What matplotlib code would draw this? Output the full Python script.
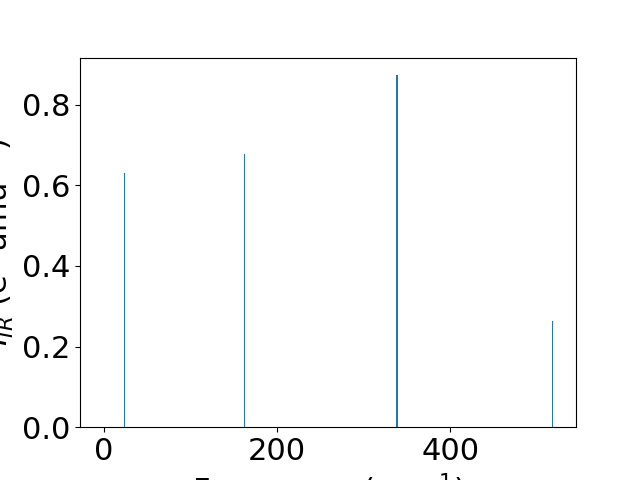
import matplotlib
matplotlib.use('Agg')
import matplotlib.pyplot as plt

# Frequências (cm^-1) e intensidades IR
freq = [23.4, 162.0, 338.0, 339.0, 517.8]
intensidade = [0.630, 0.677, 0.873, 0.873, 0.263]

plt.rcParams['font.size'] = 22

plt.figure(figsize=(6.4, 4.8), dpi=100)
plt.bar(freq, intensidade, width=1.0)
plt.xlim(-27.7, 545.2)
plt.xlabel('Frequency (cm$^{-1}$)')
plt.ylabel('$I_{IR}$ (e$^2$ amu$^{-1}$)')
plt.savefig('out.png')
